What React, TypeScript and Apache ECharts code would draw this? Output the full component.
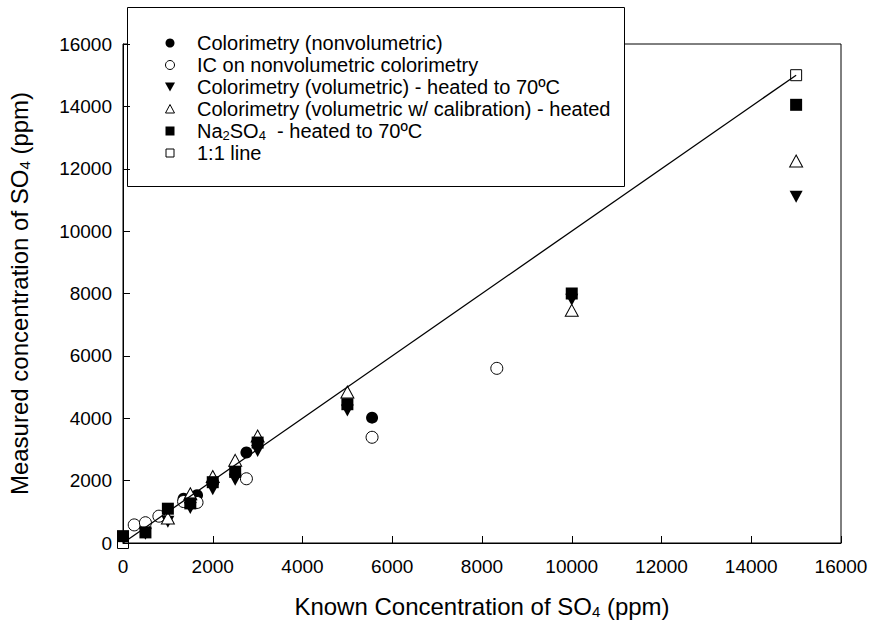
import React, { useEffect, useRef } from "react";
import * as echarts from "echarts";

// Data: [known, measured] ppm
const nonvolumetric: [number, number][] = [
  [1350, 1420], [1650, 1530], [2000, 1930], [2750, 2900], [5550, 4020],
];
const icOnNonvolumetric: [number, number][] = [
  [250, 580], [500, 650], [800, 860], [1350, 1330], [1650, 1300],
  [2750, 2060], [5550, 3390], [8330, 5600],
];
const volumetricHeated: [number, number][] = [
  [500, 300], [1000, 680], [1500, 1120], [2000, 1720], [2500, 2030],
  [3000, 2950], [5000, 4250], [10000, 7800], [15000, 11100],
];
const volumetricCalibrated: [number, number][] = [
  [1000, 800], [1500, 1580], [2000, 2130], [2500, 2650], [3000, 3430],
  [5000, 4840], [10000, 7460], [15000, 12250],
];
const na2so4Heated: [number, number][] = [
  [0, 220], [500, 340], [1000, 1100], [1500, 1270], [2000, 1950],
  [2500, 2280], [3000, 3220], [5000, 4450], [10000, 8000], [15000, 14050],
];
const oneToOne: [number, number][] = [
  [0, 0], [15000, 15000],
];

const legendLabels = [
  "Colorimetry (nonvolumetric)",
  "IC on nonvolumetric colorimetry",
  "Colorimetry (volumetric) - heated to 70ºC",
  "Colorimetry (volumetric w/ calibration) - heated",
  "{n|Na}{s|2}{n|SO}{s|4}{n|  - heated to 70ºC}",
  "1:1 line",
];

const axisMin = 0;
const axisMax = 16000;
const axisInterval = 2000;

const FONT = "'Liberation Sans', Arial, Helvetica, sans-serif";

export default function App() {
  const ref = useRef<HTMLDivElement>(null);

  useEffect(() => {
    if (!ref.current) return;
    const chart = echarts.init(ref.current, undefined, { renderer: "svg" });

    const black = "#000";
    const openStyle = { color: "#fff", borderColor: black, borderWidth: 1, opacity: 1 };
    const filledStyle = { color: black, opacity: 1 };

    const legendRowY = [43, 65, 87, 109, 131, 153];
    const symX = 170;
    const textX = 197;

    const legendSymbols: any[] = [
      { type: "circle", shape: { cx: symX, cy: legendRowY[0], r: 4.5 }, style: { fill: black } },
      { type: "circle", shape: { cx: symX, cy: legendRowY[1], r: 4.5 }, style: { fill: "#fff", stroke: black, lineWidth: 1 } },
      { type: "polygon", shape: { points: [[symX - 5, legendRowY[2] - 4.5], [symX + 5, legendRowY[2] - 4.5], [symX, legendRowY[2] + 4.5]] }, style: { fill: black } },
      { type: "polygon", shape: { points: [[symX - 4.5, legendRowY[3] + 4], [symX + 4.5, legendRowY[3] + 4], [symX, legendRowY[3] - 4.5]] }, style: { fill: "#fff", stroke: black, lineWidth: 1 } },
      { type: "rect", shape: { x: symX - 4.5, y: legendRowY[4] - 4.5, width: 9, height: 9 }, style: { fill: black } },
      { type: "rect", shape: { x: symX - 4, y: legendRowY[5] - 4, width: 8, height: 8 }, style: { fill: "#fff", stroke: black, lineWidth: 1 } },
    ];

    const legendTexts = legendLabels.map((t, i) => ({
      type: "text",
      x: textX,
      y: legendRowY[i],
      style: {
        text: t,
        fill: black,
        fontSize: 20,
        fontFamily: FONT,
        verticalAlign: "middle",
        align: "left",
        rich: {
          n: { fontSize: 20, fontFamily: FONT, fill: black, lineHeight: 20 },
          s: { fontSize: 13, fontFamily: FONT, fill: black, lineHeight: 12, padding: [9, 0, 0, 0] },
        },
      },
    }));

    const plainLabel = (v: number) => String(v);

    const axisCommon = {
      type: "value" as const,
      min: axisMin,
      max: axisMax,
      interval: axisInterval,
      axisLine: { show: true, lineStyle: { color: black, width: 1 } },
      axisTick: { show: true, inside: true, length: 7, lineStyle: { color: black, width: 1 } },
      splitLine: { show: false },
      nameLocation: "middle" as const,
    };

    const titleRich = {
      a: { fontSize: 24, fontFamily: FONT, color: black, lineHeight: 24 },
      s: { fontSize: 15, fontFamily: FONT, color: black, lineHeight: 15, padding: [10, 0, 0, 0] },
    };

    chart.setOption({
      animation: false,
      backgroundColor: "#fff",
      grid: {
        left: 123,
        right: 28,
        top: 44,
        bottom: 81,
        show: true,
        borderColor: black,
        borderWidth: 1,
        backgroundColor: "transparent",
        containLabel: false,
        outerBoundsMode: "none",
      },
      xAxis: {
        ...axisCommon,
        axisLabel: { color: black, fontSize: 19, fontFamily: FONT, margin: 14, formatter: plainLabel },
        name: "{a|Known Concentration of SO}{s|4}{a| (ppm)}",
        nameGap: 51,
        nameTextStyle: { color: black, fontSize: 24, fontFamily: FONT, rich: titleRich },
      },
      yAxis: {
        ...axisCommon,
        axisLabel: { color: black, fontSize: 19, fontFamily: FONT, margin: 11, formatter: plainLabel },
        name: "{a|Measured concentration of SO}{s|4}{a| (ppm)}",
        nameGap: 92,
        nameRotate: 90,
        nameTextStyle: { color: black, fontSize: 24, fontFamily: FONT, rich: titleRich },
      },
      series: [
        {
          name: "Colorimetry (nonvolumetric)",
          type: "scatter",
          data: nonvolumetric,
          symbol: "circle",
          symbolSize: 12,
          itemStyle: filledStyle,
        },
        {
          name: "IC on nonvolumetric colorimetry",
          type: "scatter",
          data: icOnNonvolumetric,
          symbol: "circle",
          symbolSize: 12,
          itemStyle: openStyle,
        },
        {
          name: "Colorimetry (volumetric) - heated to 70ºC",
          type: "scatter",
          data: volumetricHeated,
          symbol: "triangle",
          symbolRotate: 180,
          symbolSize: [13, 12],
          itemStyle: filledStyle,
        },
        {
          name: "Colorimetry (volumetric w/ calibration) - heated",
          type: "scatter",
          data: volumetricCalibrated,
          symbol: "triangle",
          symbolSize: [13, 12],
          itemStyle: openStyle,
        },
        {
          name: "Na2SO4 - heated to 70ºC",
          type: "scatter",
          data: na2so4Heated,
          symbol: "rect",
          symbolSize: 12,
          itemStyle: filledStyle,
        },
        {
          name: "1:1 line",
          type: "line",
          data: oneToOne,
          symbol: "rect",
          symbolSize: 11,
          showSymbol: true,
          itemStyle: { color: "rgba(255,255,255,0)", borderColor: black, borderWidth: 1, opacity: 1 },
          lineStyle: { color: black, width: 1.3 },
          z: 3,
        },
      ],
      graphic: [
        {
          type: "group",
          z: 100,
          children: [
            {
              type: "rect",
              shape: { x: 127.5, y: 7.5, width: 497, height: 179 },
              style: { fill: "#fff", stroke: black, lineWidth: 1 },
            },
            ...legendSymbols,
            ...legendTexts,
          ],
        },
      ],
    });

    return () => chart.dispose();
  }, []);

  return (
    <div
      ref={ref}
      style={{ position: "fixed", left: 0, top: 0, width: 869, height: 624, background: "#fff" }}
    />
  );
}
